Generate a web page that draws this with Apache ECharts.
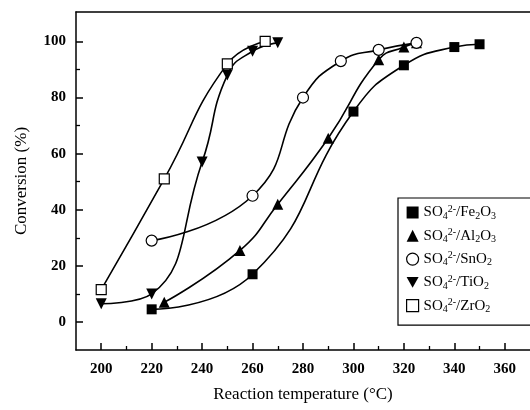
<!DOCTYPE html>
<html>
<head>
<meta charset="utf-8">
<script src="https://cdn.jsdelivr.net/npm/echarts@6/dist/echarts.min.js"></script>
<style>
html,body{margin:0;padding:0;background:#fff;}
#main{width:530px;height:410px;}
</style>
</head>
<body>
<div id="main"></div>
<script>
// data
var xFe = [220, 260, 300, 320, 340, 350];
var yFe = [4.5, 17, 75, 91.5, 98, 99];
var xAl = [225, 255, 270, 290, 310, 320, 325];
var yAl = [7, 25.5, 42, 65.5, 93.5, 98, 99.5];
var xSn = [220, 260, 280, 295, 310, 325];
var ySn = [29, 45, 80, 93, 97, 99.5];
var xTi = [200, 220, 240, 250, 260, 270];
var yTi = [6.5, 10, 57, 88, 96.5, 99.5];
var xZr = [200, 225, 250, 265];
var yZr = [11.5, 51, 92, 100];

var xMajor = [200, 220, 240, 260, 280, 300, 320, 340, 360];
var xMinor = [210, 230, 250, 270, 290, 310, 330, 350];
var yMajor = [0, 20, 40, 60, 80, 100];
var yMinor = [10, 30, 50, 70, 90];

var labels = {
	Fe: '{n|SO}{sub|4}{sup|2-}{n|/Fe}{sub|2}{n|O}{sub|3}',
	Al: '{n|SO}{sub|4}{sup|2-}{n|/Al}{sub|2}{n|O}{sub|3}',
	Sn: '{n|SO}{sub|4}{sup|2-}{n|/SnO}{sub|2}',
	Ti: '{n|SO}{sub|4}{sup|2-}{n|/TiO}{sub|2}',
	Zr: '{n|SO}{sub|4}{sup|2-}{n|/ZrO}{sub|2}'
};

function pairs(xs, ys){
	var out = [];
	for (var i = 0; i < xs.length; i++) out.push([xs[i], ys[i]]);
	return out;
}

var serif = 'Liberation Serif';
var downTri = 'path://M0,0L10,0L5,9Z';
var filled = {color: '#000'};
var hollow = {color: '#fff', borderColor: '#000', borderWidth: 1.2};

function line(name, data, symbol, size, style){
	return {
		name: name,
		type: 'line',
		data: data,
		smooth: 0.5,
		symbol: symbol,
		symbolSize: size,
		showAllSymbol: true,
		lineStyle: {color: '#000', width: 1.6},
		itemStyle: style,
		emphasis: {disabled: true},
		z: 3
	};
}

var chart = echarts.init(document.getElementById('main'));

var axisLine = {show: true, onZero: false, lineStyle: {color: '#000', width: 1.5}};

var option = {
	animation: false,
	backgroundColor: '#fff',
	grid: {left: 76, top: 12, width: 455, bottom: 60},
	legend: {
		orient: 'vertical',
		left: 398,
		top: 198,
		padding: [6, 40, 11, 8],
		itemGap: 6.3,
		itemWidth: 12,
		itemHeight: 12,
		borderColor: '#000',
		borderWidth: 1.2,
		data: [
			{name: 'Fe', icon: 'rect', itemStyle: filled},
			{name: 'Al', icon: 'triangle', itemStyle: filled},
			{name: 'Sn', icon: 'circle', itemStyle: hollow},
			{name: 'Ti', icon: downTri, itemStyle: filled},
			{name: 'Zr', icon: 'rect', itemStyle: hollow}
		],
		formatter: function(n){ return labels[n]; },
		textStyle: {
			rich: {
				n: {fontFamily: serif, fontSize: 15, color: '#000'},
				sub: {fontFamily: serif, fontSize: 10, color: '#000', padding: [7, 0, 0, 0]},
				sup: {fontFamily: serif, fontSize: 10, color: '#000', padding: [0, 0, 7, 0]}
			}
		}
	},
	xAxis: [
		{
			type: 'value', min: 190, max: 370, position: 'bottom',
			name: 'Reaction temperature (\u00b0C)',
			nameLocation: 'middle', nameGap: 36,
			nameTextStyle: {fontFamily: serif, fontSize: 17, color: '#000'},
			axisLine: axisLine,
			axisTick: {show: true, inside: true, length: 7, customValues: xMajor, lineStyle: {color: '#000', width: 1.5}},
			axisLabel: {show: true, customValues: xMajor, margin: 12, fontFamily: serif, fontWeight: 'bold', fontSize: 15, color: '#000'},
			splitLine: {show: false}
		},
		{
			type: 'value', min: 190, max: 370, position: 'bottom',
			axisLine: {show: false, onZero: false},
			axisTick: {show: true, inside: true, length: 4, customValues: xMinor, lineStyle: {color: '#000', width: 1.3}},
			axisLabel: {show: false},
			splitLine: {show: false}
		},
		{
			type: 'value', min: 190, max: 370, position: 'top',
			axisLine: axisLine,
			axisTick: {show: false},
			axisLabel: {show: false},
			splitLine: {show: false}
		}
	],
	yAxis: [
		{
			type: 'value', min: -10, max: 110.5, position: 'left',
			name: 'Conversion (%)',
			nameLocation: 'middle', nameGap: 46,
			nameTextStyle: {fontFamily: serif, fontSize: 17, color: '#000'},
			axisLine: axisLine,
			axisTick: {show: true, inside: true, length: 7, customValues: yMajor, lineStyle: {color: '#000', width: 1.5}},
			axisLabel: {show: true, customValues: yMajor, margin: 10, fontFamily: serif, fontWeight: 'bold', fontSize: 15, color: '#000'},
			splitLine: {show: false}
		},
		{
			type: 'value', min: -10, max: 110.5, position: 'left',
			axisLine: {show: false, onZero: false},
			axisTick: {show: true, inside: true, length: 4, customValues: yMinor, lineStyle: {color: '#000', width: 1.3}},
			axisLabel: {show: false},
			splitLine: {show: false}
		}
	],
	series: [
		line('Fe', pairs(xFe, yFe), 'rect', 10, filled),
		line('Al', pairs(xAl, yAl), 'triangle', 11, filled),
		line('Sn', pairs(xSn, ySn), 'circle', 11, hollow),
		line('Ti', pairs(xTi, yTi), downTri, 11, filled),
		line('Zr', pairs(xZr, yZr), 'rect', 10, hollow)
	]
};

chart.setOption(option);
</script>
</body>
</html>
